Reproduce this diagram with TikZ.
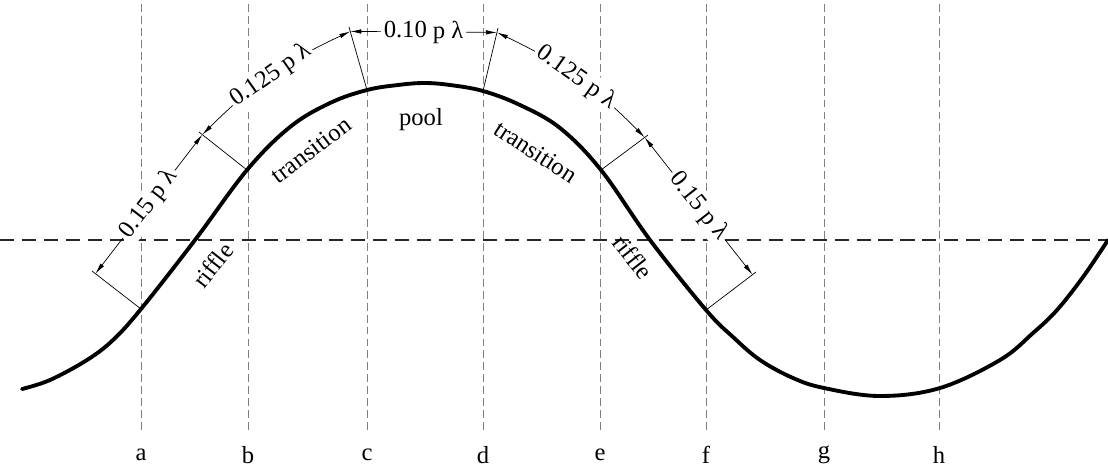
\documentclass[tikz,border=0pt]{standalone}
\usepackage{fontspec}
\setmainfont{Liberation Serif}
\usetikzlibrary{arrows.meta, calc}

\begin{document}
\begin{tikzpicture}[
    x=0.02cm, y=-0.02cm,
    font=\fontsize{14}{16}\selectfont,
    guide/.style={draw=gray, line width=0.5pt, dash pattern=on 4.5pt off 2.3pt},
    axisline/.style={draw=black!85, line width=0.7pt, dash pattern=on 8pt off 4.5pt},
    bed/.style={line width=2.2pt, line join=round, line cap=round},
    ext/.style={line width=0.4pt},
    dim/.style={line width=0.4pt,
                {Latex[length=2.2mm,width=0.9mm]}-{Latex[length=2.2mm,width=0.9mm]}},
    dimtxt/.style={fill=white, inner sep=1.5pt, sloped},
    lbl/.style={inner sep=1pt}
    ]
    \useasboundingbox (0,0) rectangle (1108,468);

    % section lines and their letters
    \foreach \n/\x in {a/141, b/248, c/367, d/483, e/600, f/706, g/824, h/939} {
      \coordinate (g\n1) at (\x,4);
      \coordinate (g\n2) at (\x,432);
      \draw[guide] (g\n1) -- (g\n2);
      \node (l\n) at (\x,455) {\n};
    }
    \coordinate (hl) at (0,240);
    \coordinate (hr) at (1108,240);
    \draw[axisline] (hl) -- (hr);

    % channel bed
    \draw[bed] plot[smooth, tension=0.6] coordinates {
      (22,389) (50,380) (87,360) (113,340) (141,309) (195,240) (247,170)
      (290,127) (330,103) (367,90) (398,85) (424,83) (450,85) (483,91)
      (520,105) (560,128) (601,170) (650,240) (706,310) (733,337) (760,360)
      (793,378) (824,388) (880,396) (940,388) (1000,360) (1033,333)
      (1057,310) (1083,277) (1108,240)};

    % extension lines
    \coordinate (pa) at (141,309); \coordinate (qa) at (92,271);
    \coordinate (pb) at (247,170); \coordinate (qb) at (199,132);
    \coordinate (pc) at (367,90);  \coordinate (qc) at (349,27);
    \coordinate (pd) at (483,91);  \coordinate (qd) at (498,28);
    \coordinate (pe) at (601,170); \coordinate (qe) at (648,135);
    \coordinate (pf) at (706,310); \coordinate (qf) at (756,272);
    \foreach \s in {a,b,c,d,e,f} {
      \draw[ext] (p\s) -- (q\s);
      \coordinate (r\s) at ($(p\s)!0.93!(q\s)$);
    }

    % lengths
    \draw[dim] (ra) -- node[dimtxt] {0.15 p λ} (rb);
    \draw[dim] (rb) to[bend left=10] node[dimtxt] {0.125 p λ} (rc);
    \draw[dim] (rc) -- node[dimtxt] {0.10 p λ} (rd);
    \draw[dim] (rd) to[bend left=10] node[dimtxt] {0.125 p λ} (re);
    \draw[dim] (re) -- node[dimtxt] {0.15 p λ} (rf);

    \node[lbl, rotate=52]  (rif1) at (213,265) {riffle};
    \node[lbl, rotate=37]  (tr1)  at (311,150) {transition};
    \node[lbl]             (pool) at (421,120) {pool};
    \node[lbl, rotate=-33] (tr2)  at (536,152) {transition};
    \node[lbl, rotate=-52] (rif2) at (633,257) {riffle};
  \end{tikzpicture}
\end{document}
